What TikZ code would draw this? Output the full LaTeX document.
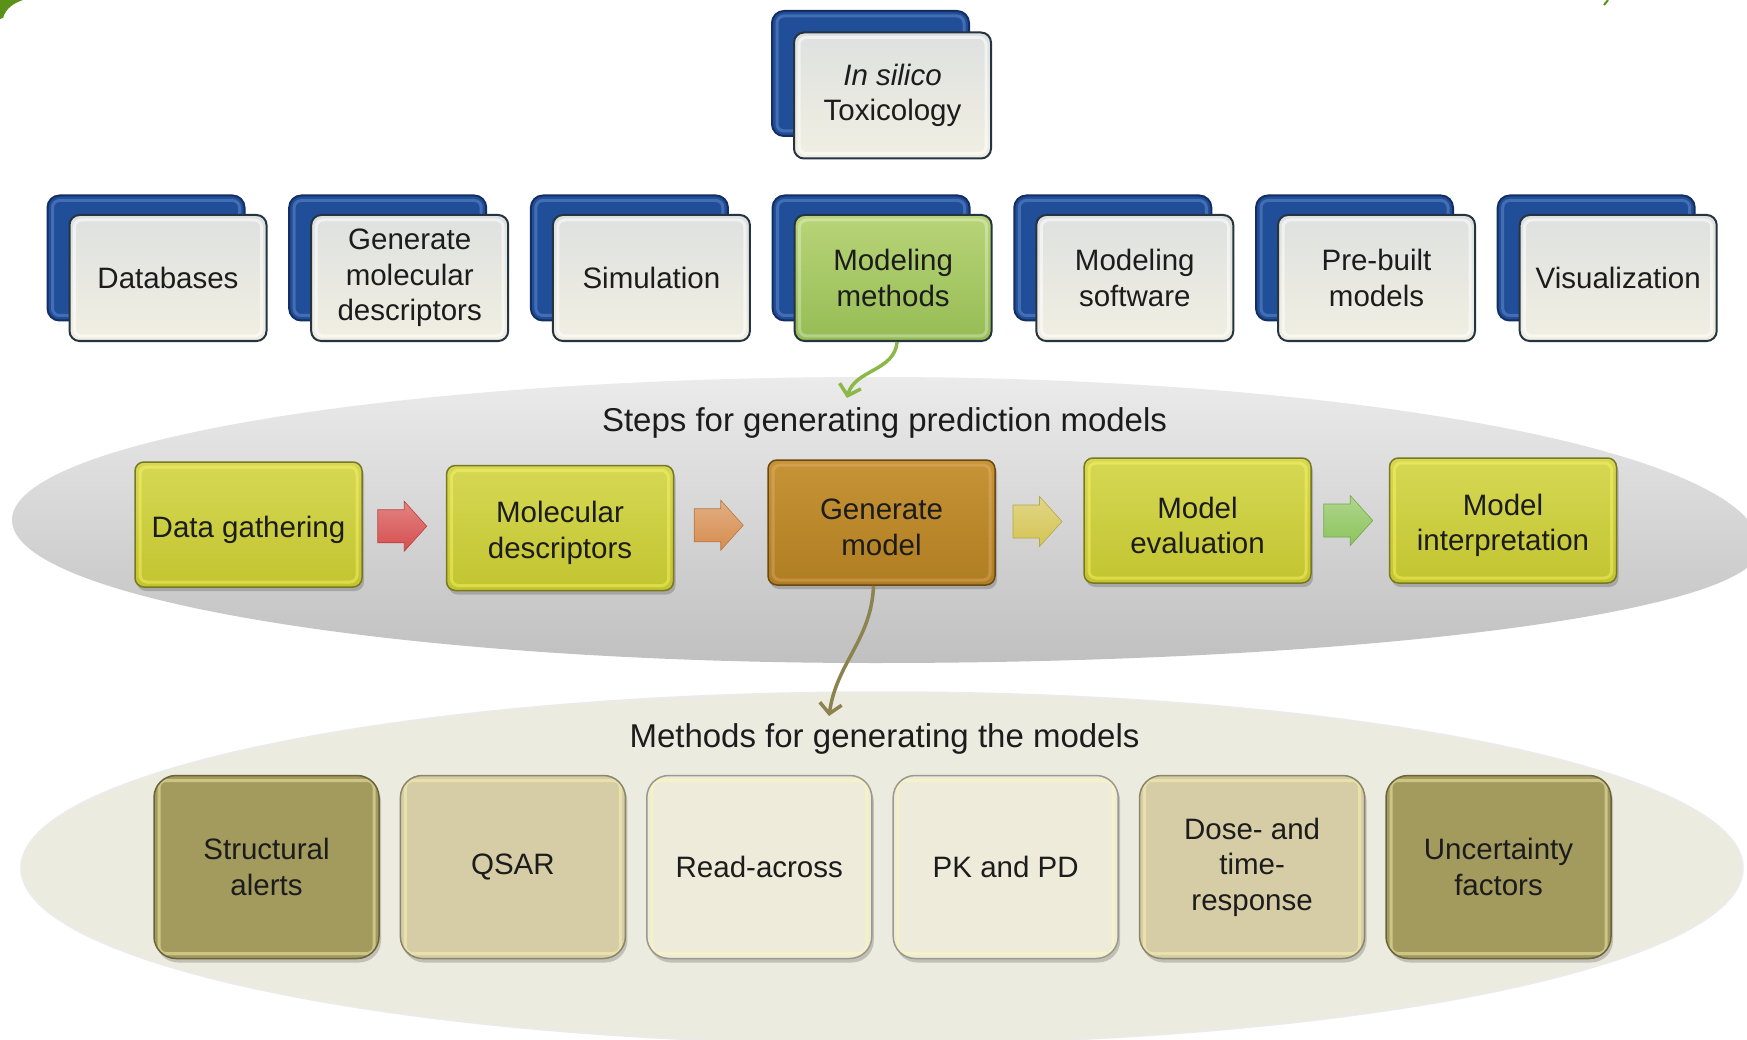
\documentclass[tikz,border=0pt]{standalone}
\usepackage{fontspec}
\setmainfont{Liberation Sans}
\usetikzlibrary{calc,arrows.meta,shadows}

\definecolor{bluebox}{RGB}{32,78,152}
\definecolor{blueedge}{RGB}{20,46,98}
\definecolor{bluelight}{RGB}{92,132,200}
\definecolor{treeline}{RGB}{25,58,108}
\definecolor{frontedge}{RGB}{38,52,66}
\definecolor{fronttop}{RGB}{222,225,224}
\definecolor{frontbot}{RGB}{241,239,226}
\definecolor{greentop}{RGB}{184,212,120}
\definecolor{greenbot}{RGB}{150,188,84}
\definecolor{steptop}{RGB}{214,216,84}
\definecolor{stepbot}{RGB}{194,196,48}
\definecolor{stepedge}{RGB}{120,120,34}
\definecolor{gentop}{RGB}{198,148,54}
\definecolor{genbot}{RGB}{176,126,34}
\definecolor{genedge}{RGB}{105,72,20}
\definecolor{khaki}{RGB}{163,154,94}
\definecolor{sand}{RGB}{214,205,166}
\definecolor{cream}{RGB}{238,235,218}
\definecolor{ellgraytop}{RGB}{235,235,235}
\definecolor{ellgraybot}{RGB}{192,192,192}
\definecolor{ellbeige}{RGB}{236,235,224}
\definecolor{arrred}{RGB}{214,78,78}
\definecolor{arrorange}{RGB}{214,140,78}
\definecolor{arryellow}{RGB}{212,196,84}
\definecolor{arrgreen}{RGB}{140,196,92}
\definecolor{curvegreen}{RGB}{140,184,72}
\definecolor{curveolive}{RGB}{140,131,80}
\definecolor{leafgreen}{RGB}{92,145,25}
\definecolor{txt}{RGB}{28,28,28}

\pgfdeclarelayer{lines}
\pgfsetlayers{lines,main}

% block arrow between two neighbouring step boxes
\newcommand\stepjoin[3]{%
  \begin{scope}[shift={($(#1.east)!0.5!(#2.west)+(-2,0)$)}]
    \shade[top color=#3!70!white, bottom color=#3, draw=#3!85!black, line width=0.6pt]
      (-24.5,16.5) -- (2,16.5) -- (2,25) -- (24.5,0) -- (2,-25) -- (2,-16.5) -- (-24.5,-16.5) -- cycle;
  \end{scope}}

\begin{document}
\begin{tikzpicture}[x=1pt,y=1pt,
  boxtext/.style={font=\fontsize{29.5pt}{35.5pt}\selectfont, text=txt, align=center, inner sep=0pt},
  titletext/.style={font=\fontsize{33pt}{40pt}\selectfont, text=txt},
  bevel/.style={path picture={\draw[#1, line width=3pt, rounded corners=7pt]
      ([shift={(5pt,-5pt)}]path picture bounding box.north west) rectangle
      ([shift={(-5pt,5pt)}]path picture bounding box.south east);}},
  backbox/.style={rounded corners=12pt, draw=blueedge, line width=2pt, fill=bluebox,
      minimum width=197pt, minimum height=125pt, inner sep=0pt, bevel={bluelight, opacity=0.6}},
  frontbox/.style={rounded corners=10pt, draw=frontedge, line width=2pt,
      top color=fronttop, bottom color=frontbot, minimum width=197pt, minimum height=126pt,
      boxtext, bevel={white, opacity=0.55}},
  greenbox/.style={frontbox, top color=greentop, bottom color=greenbot, bevel={white, opacity=0.3}},
  stepbox/.style={rounded corners=9pt, draw=stepedge, line width=1.5pt,
      top color=steptop, bottom color=stepbot, minimum width=227pt, minimum height=125pt,
      inner sep=0pt, bevel={yellow!60!white, opacity=0.45},
      general shadow={fill=black, opacity=0.18, shadow xshift=2pt, shadow yshift=-4pt},
      label={[boxtext, yshift=-5pt]center:{#1}}},
  genbox/.style={stepbox={#1}, draw=genedge, top color=gentop, bottom color=genbot,
      bevel={orange!40!white, opacity=0.25}},
  methbox/.style={rounded corners=22pt, draw=#1!65!black, line width=1.5pt, fill=#1,
      minimum width=225pt, minimum height=183pt, boxtext,
      bevel={yellow!30!white, opacity=0.45},
      general shadow={fill=black, opacity=0.18, shadow xshift=2pt, shadow yshift=-4pt}},
  tree/.style={draw=treeline, line width=3pt},
  curvearrow/.style={line width=3.5pt, -{Straight Barb[length=10pt,width=22pt]}}
]
\useasboundingbox (0,0) rectangle (1747,-1040);
\fill[white] (0,0) rectangle (1747,-1040);

% corner fragments at the page edge
\fill[leafgreen] (0,0) -- (23,0) .. controls (14,-3) and (6,-8) .. (3,-18) -- (0,-19) -- cycle;
\draw[leafgreen, line width=2pt] (1608,0) -- (1604,-5);

% backdrops of the two lower panels
\shade[top color=ellgraytop, bottom color=ellgraybot]
  (12,-520) .. controls (12,-441) and (398,-377) .. (875,-377)
  .. controls (1364,-377) and (1760,-454) .. (1760,-548)
  .. controls (1760,-612) and (1364,-663) .. (875,-663)
  .. controls (398,-663) and (12,-599) .. cycle;
\fill[ellbeige, draw=black!8, line width=1.5pt] (882,-868) ellipse [x radius=861, y radius=176];

% root of the tree
\node[backbox] (rootb) at (870.5,-73.5) {};
\node[frontbox] (root) at (892.5,-95.5) {\textit{In silico}\\Toxicology};

% the seven branches
\node[backbox] (b1) at (146,-258) {};
\node[frontbox] (f1) at (168,-278) {Databases};
\node[backbox] (b2) at (387.7,-258) {};
\node[frontbox] (f2) at (409.7,-278) {Generate\\molecular\\descriptors};
\node[backbox] (b3) at (629.4,-258) {};
\node[frontbox] (f3) at (651.4,-278) {Simulation};
\node[backbox] (b4) at (871.1,-258) {};
\node[greenbox] (f4) at (893.1,-278) {Modeling\\methods};
\node[backbox] (b5) at (1112.8,-258) {};
\node[frontbox] (f5) at (1134.8,-278) {Modeling\\software};
\node[backbox] (b6) at (1354.5,-258) {};
\node[frontbox] (f6) at (1376.5,-278) {Pre-built\\models};
\node[backbox] (b7) at (1596.2,-258) {};
\node[frontbox] (f7) at (1618.2,-278) {Visualization};

\coordinate (bar) at (0,-175);
\begin{pgfonlayer}{lines}
  \draw[tree] (rootb.south) -- (rootb.south |- bar);
  \draw[tree] (b1.north |- bar) -- (b7.north |- bar);
  \foreach \b in {b1,b2,b3,b4,b5,b6,b7}
    \draw[tree] (\b.north) -- (\b.north |- bar);
\end{pgfonlayer}

% steps for generating prediction models
\node[titletext] (steps) at (884.5,-423) {Steps for generating prediction models};
\node[stepbox={Data gathering}] (s1) at (248.5,-524.5) {};
\node[stepbox={Molecular\\descriptors}] (s2) at (560,-528) {};
\node[genbox={Generate\\model}] (s3) at (881.5,-522.5) {};
\node[stepbox={Model\\evaluation}] (s4) at (1197.5,-520.5) {};
\node[stepbox={Model\\interpretation}] (s5) at (1503,-520.5) {};

\stepjoin{s1}{s2}{arrred}
\stepjoin{s2}{s3}{arrorange}
\stepjoin{s3}{s4}{arryellow}
\stepjoin{s4}{s5}{arrgreen}

% methods for generating the models
\node[titletext] (meths) at (884.5,-738.5) {Methods for generating the models};
\node[methbox=khaki] (m1) at (266.5,-867) {Structural\\alerts};
\node[methbox=sand]  (m2) at (512.9,-867) {QSAR};
\node[methbox=cream] (m3) at (759.3,-867) {Read-across};
\node[methbox=cream] (m4) at (1005.7,-867) {PK and PD};
\node[methbox=sand]  (m5) at (1252.1,-867) {Dose- and\\time-\\response};
\node[methbox=khaki] (m6) at (1498.5,-867) {Uncertainty\\factors};

% links between the levels
\coordinate (greentip) at (847,-398);
\coordinate (olivetip) at (829,-716);
\draw[curvearrow, curvegreen] ([xshift=4pt]f4.south) to[out=-95,in=75] (greentip);
\draw[curvearrow, curveolive] ([xshift=-8pt]s3.south) to[out=-92,in=82] (olivetip);
\end{tikzpicture}
\end{document}
